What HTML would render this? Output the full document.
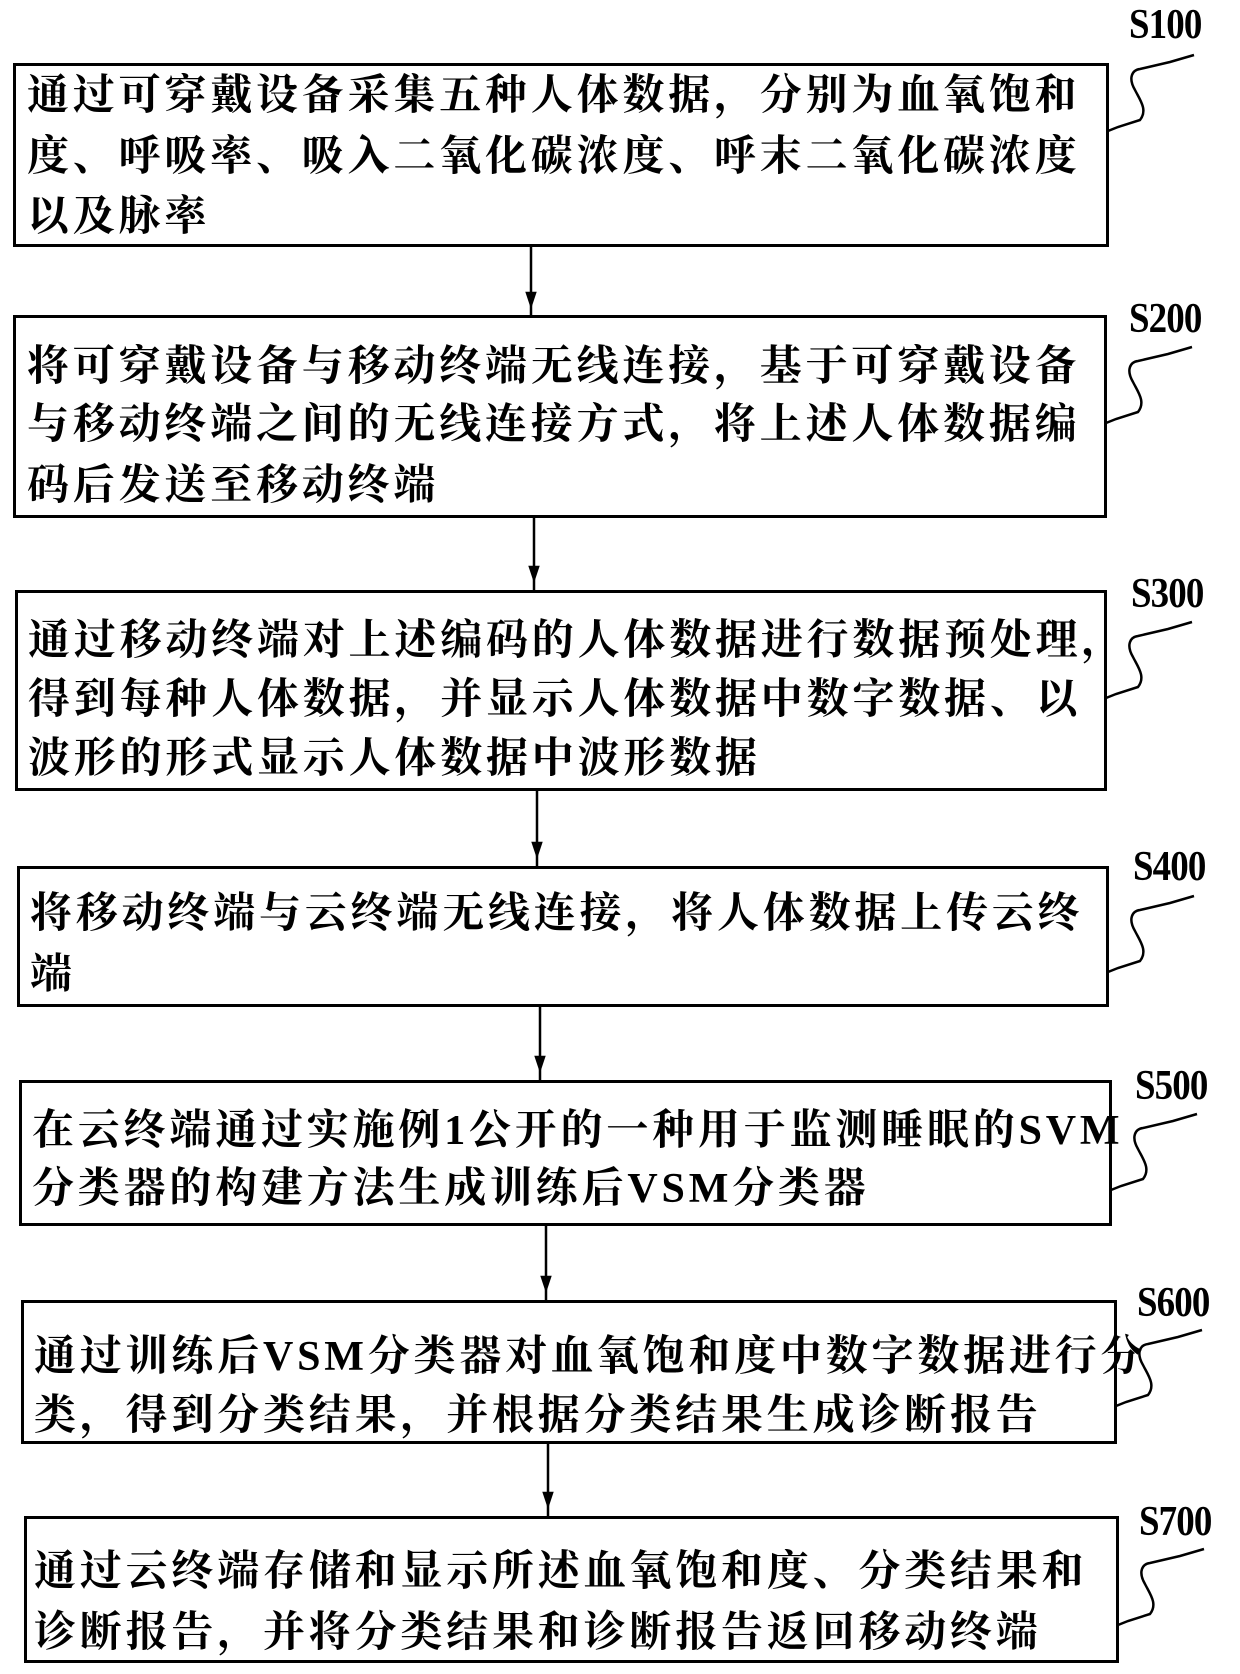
<!DOCTYPE html>
<html><head><meta charset="utf-8"><style>
html,body{margin:0;padding:0;background:#fff;}
body{width:1240px;height:1674px;position:relative;overflow:hidden;}
.box{position:absolute;border:3px solid #000;box-sizing:border-box;}
.t{position:absolute;white-space:nowrap;font-family:"Liberation Serif","Noto Serif CJK SC","Noto Sans CJK SC",serif;font-weight:bold;font-size:42px;letter-spacing:3.8px;line-height:60px;color:#000;}
.lb{position:absolute;font-family:"Liberation Serif",serif;font-weight:bold;font-size:42px;letter-spacing:-1px;color:#000;transform:scaleX(0.88);transform-origin:left top;}
svg{position:absolute;left:0;top:0;}
</style></head><body>

<div class="box" style="left:13px;top:63px;width:1096px;height:184px"></div>
<div class="box" style="left:13px;top:315px;width:1094px;height:203px"></div>
<div class="box" style="left:15px;top:590px;width:1092px;height:201px"></div>
<div class="box" style="left:17px;top:866px;width:1092px;height:141px"></div>
<div class="box" style="left:19px;top:1080px;width:1093px;height:146px"></div>
<div class="box" style="left:21px;top:1300px;width:1096px;height:144px"></div>
<div class="box" style="left:24px;top:1516px;width:1095px;height:147px"></div>

<div class="t" style="left:27px;top:66px">通过可穿戴设备采集五种人体数据，分别为血氧饱和</div>
<div class="t" style="left:27px;top:127px">度、呼吸率、吸入二氧化碳浓度、呼末二氧化碳浓度</div>
<div class="t" style="left:27px;top:187px">以及脉率</div>

<div class="t" style="left:27px;top:337px">将可穿戴设备与移动终端无线连接，基于可穿戴设备</div>
<div class="t" style="left:27px;top:395px">与移动终端之间的无线连接方式，将上述人体数据编</div>
<div class="t" style="left:27px;top:456px">码后发送至移动终端</div>

<div class="t" style="left:28px;top:611px">通过移动终端对上述编码的人体数据进行数据预处理，</div>
<div class="t" style="left:28px;top:670px">得到每种人体数据，并显示人体数据中数字数据、以</div>
<div class="t" style="left:28px;top:729px">波形的形式显示人体数据中波形数据</div>

<div class="t" style="left:30px;top:884px">将移动终端与云终端无线连接，将人体数据上传云终</div>
<div class="t" style="left:30px;top:945px">端</div>

<div class="t" style="left:32px;top:1101px">在云终端通过实施例1公开的一种用于监测睡眠的SVM</div>
<div class="t" style="left:32px;top:1159px">分类器的构建方法生成训练后VSM分类器</div>

<div class="t" style="left:34px;top:1327px">通过训练后VSM分类器对血氧饱和度中数字数据进行分</div>
<div class="t" style="left:34px;top:1386px">类，得到分类结果，并根据分类结果生成诊断报告</div>

<div class="t" style="left:34px;top:1542px">通过云终端存储和显示所述血氧饱和度、分类结果和</div>
<div class="t" style="left:34px;top:1603px">诊断报告，并将分类结果和诊断报告返回移动终端</div>

<div class="lb" style="left:1129px;top:1px">S100</div>
<div class="lb" style="left:1129px;top:295px">S200</div>
<div class="lb" style="left:1131px;top:570px">S300</div>
<div class="lb" style="left:1133px;top:843px">S400</div>
<div class="lb" style="left:1135px;top:1062px">S500</div>
<div class="lb" style="left:1137px;top:1279px">S600</div>
<div class="lb" style="left:1139px;top:1498px">S700</div>

<svg width="1240" height="1674" viewBox="0 0 1240 1674">
<defs>
<path id="sq" d="M0,0 L10,-4 L32,-11 C40,-21 32,-31 27,-41 C20,-53 24,-61 32,-62 L62,-69 L86,-76" fill="none" stroke="#000" stroke-width="2.5"/>
</defs>
<use href="#sq" x="1108" y="131"/>
<use href="#sq" x="1106" y="423"/>
<use href="#sq" x="1106" y="698"/>
<use href="#sq" x="1108" y="972"/>
<use href="#sq" x="1111" y="1190"/>
<use href="#sq" x="1116" y="1406"/>
<use href="#sq" x="1118" y="1625"/>
<g stroke="#000" stroke-width="2.5" fill="#000">
<line x1="531" y1="247" x2="531" y2="315"/><path d="M527,293 L535,293 L531,305 Z"/>
<line x1="534" y1="518" x2="534" y2="590"/><path d="M530,567 L538,567 L534,579 Z"/>
<line x1="537" y1="791" x2="537" y2="866"/><path d="M533,843 L541,843 L537,855 Z"/>
<line x1="540" y1="1007" x2="540" y2="1080"/><path d="M536,1057 L544,1057 L540,1069 Z"/>
<line x1="546" y1="1226" x2="546" y2="1300"/><path d="M542,1277 L550,1277 L546,1289 Z"/>
<line x1="548" y1="1444" x2="548" y2="1516"/><path d="M544,1493 L552,1493 L548,1505 Z"/>
</g>
</svg>
</body></html>
